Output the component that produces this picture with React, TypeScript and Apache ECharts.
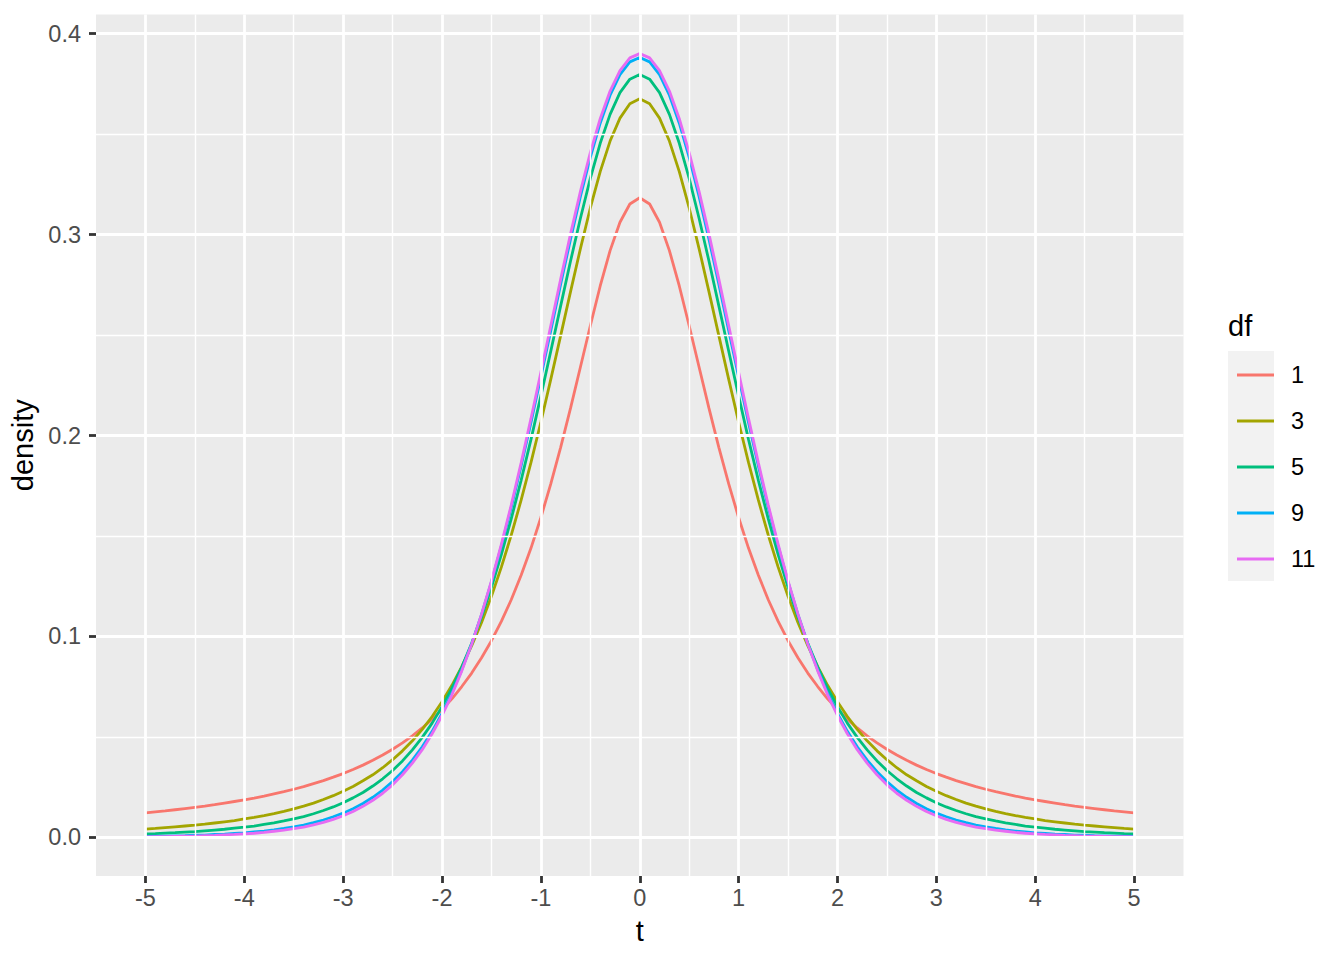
import React, { useEffect, useRef } from "react";
import * as echarts from "echarts";

// t values (x axis)
const tValues = [
  -5.0, -4.9, -4.8, -4.7, -4.6, -4.5, -4.4, -4.3, -4.2, -4.1,
  -4.0, -3.9, -3.8, -3.7, -3.6, -3.5, -3.4, -3.3, -3.2, -3.1,
  -3.0, -2.9, -2.8, -2.7, -2.6, -2.5, -2.4, -2.3, -2.2, -2.1,
  -2.0, -1.9, -1.8, -1.7, -1.6, -1.5, -1.4, -1.3, -1.2, -1.1,
  -1.0, -0.9, -0.8, -0.7, -0.6, -0.5, -0.4, -0.3, -0.2, -0.1,
  0.0,
  0.1, 0.2, 0.3, 0.4, 0.5, 0.6, 0.7, 0.8, 0.9, 1.0,
  1.1, 1.2, 1.3, 1.4, 1.5, 1.6, 1.7, 1.8, 1.9, 2.0,
  2.1, 2.2, 2.3, 2.4, 2.5, 2.6, 2.7, 2.8, 2.9, 3.0,
  3.1, 3.2, 3.3, 3.4, 3.5, 3.6, 3.7, 3.8, 3.9, 4.0,
  4.1, 4.2, 4.3, 4.4, 4.5, 4.6, 4.7, 4.8, 4.9, 5.0,
];

const density1 = [
  0.0122, 0.0127, 0.0132, 0.0138, 0.0144, 0.0150, 0.0156, 0.0163, 0.0171, 0.0179,
  0.0187, 0.0196, 0.0206, 0.0217, 0.0228, 0.0240, 0.0253, 0.0268, 0.0283, 0.0300,
  0.0318, 0.0338, 0.0360, 0.0384, 0.0410, 0.0439, 0.0471, 0.0506, 0.0545, 0.0588,
  0.0637, 0.0690, 0.0751, 0.0818, 0.0894, 0.0979, 0.1075, 0.1183, 0.1305, 0.1440,
  0.1592, 0.1759, 0.1941, 0.2136, 0.2341, 0.2546, 0.2744, 0.2920, 0.3061, 0.3152,
  0.3183,
  0.3152, 0.3061, 0.2920, 0.2744, 0.2546, 0.2341, 0.2136, 0.1941, 0.1759, 0.1592,
  0.1440, 0.1305, 0.1183, 0.1075, 0.0979, 0.0894, 0.0818, 0.0751, 0.0690, 0.0637,
  0.0588, 0.0545, 0.0506, 0.0471, 0.0439, 0.0410, 0.0384, 0.0360, 0.0338, 0.0318,
  0.0300, 0.0283, 0.0268, 0.0253, 0.0240, 0.0228, 0.0217, 0.0206, 0.0196, 0.0187,
  0.0179, 0.0171, 0.0163, 0.0156, 0.0150, 0.0144, 0.0138, 0.0132, 0.0127, 0.0122,
];

const density3 = [
  0.0042, 0.0045, 0.0049, 0.0053, 0.0057, 0.0061, 0.0066, 0.0072, 0.0078, 0.0084,
  0.0092, 0.0100, 0.0109, 0.0119, 0.0130, 0.0142, 0.0156, 0.0171, 0.0189, 0.0208,
  0.0230, 0.0254, 0.0282, 0.0312, 0.0347, 0.0387, 0.0431, 0.0481, 0.0538, 0.0602,
  0.0675, 0.0757, 0.0850, 0.0954, 0.1070, 0.1200, 0.1345, 0.1504, 0.1678, 0.1866,
  0.2067, 0.2279, 0.2497, 0.2716, 0.2930, 0.3132, 0.3313, 0.3465, 0.3579, 0.3651,
  0.3676,
  0.3651, 0.3579, 0.3465, 0.3313, 0.3132, 0.2930, 0.2716, 0.2497, 0.2279, 0.2067,
  0.1866, 0.1678, 0.1504, 0.1345, 0.1200, 0.1070, 0.0954, 0.0850, 0.0757, 0.0675,
  0.0602, 0.0538, 0.0481, 0.0431, 0.0387, 0.0347, 0.0312, 0.0282, 0.0254, 0.0230,
  0.0208, 0.0189, 0.0171, 0.0156, 0.0142, 0.0130, 0.0119, 0.0109, 0.0100, 0.0092,
  0.0084, 0.0078, 0.0072, 0.0066, 0.0061, 0.0057, 0.0053, 0.0049, 0.0045, 0.0042,
];

const density5 = [
  0.0018, 0.0019, 0.0022, 0.0024, 0.0027, 0.0029, 0.0033, 0.0037, 0.0041, 0.0046,
  0.0051, 0.0057, 0.0065, 0.0073, 0.0082, 0.0092, 0.0104, 0.0118, 0.0134, 0.0152,
  0.0173, 0.0197, 0.0224, 0.0256, 0.0292, 0.0333, 0.0381, 0.0436, 0.0498, 0.0569,
  0.0651, 0.0743, 0.0848, 0.0966, 0.1098, 0.1245, 0.1407, 0.1585, 0.1777, 0.1981,
  0.2197, 0.2419, 0.2645, 0.2868, 0.3081, 0.3279, 0.3454, 0.3598, 0.3706, 0.3773,
  0.3796,
  0.3773, 0.3706, 0.3598, 0.3454, 0.3279, 0.3081, 0.2868, 0.2645, 0.2419, 0.2197,
  0.1981, 0.1777, 0.1585, 0.1407, 0.1245, 0.1098, 0.0966, 0.0848, 0.0743, 0.0651,
  0.0569, 0.0498, 0.0436, 0.0381, 0.0333, 0.0292, 0.0256, 0.0224, 0.0197, 0.0173,
  0.0152, 0.0134, 0.0118, 0.0104, 0.0092, 0.0082, 0.0073, 0.0065, 0.0057, 0.0051,
  0.0046, 0.0041, 0.0037, 0.0033, 0.0029, 0.0027, 0.0024, 0.0022, 0.0019, 0.0018,
];

const density9 = [
  0.0005, 0.0006, 0.0007, 0.0008, 0.0009, 0.0011, 0.0012, 0.0015, 0.0017, 0.0020,
  0.0023, 0.0028, 0.0032, 0.0038, 0.0045, 0.0053, 0.0062, 0.0074, 0.0087, 0.0103,
  0.0121, 0.0143, 0.0169, 0.0200, 0.0236, 0.0278, 0.0327, 0.0385, 0.0451, 0.0528,
  0.0617, 0.0719, 0.0834, 0.0964, 0.1110, 0.1272, 0.1449, 0.1642, 0.1848, 0.2065,
  0.2292, 0.2522, 0.2753, 0.2977, 0.3190, 0.3384, 0.3554, 0.3693, 0.3796, 0.3859,
  0.3881,
  0.3859, 0.3796, 0.3693, 0.3554, 0.3384, 0.3190, 0.2977, 0.2753, 0.2522, 0.2292,
  0.2065, 0.1848, 0.1642, 0.1449, 0.1272, 0.1110, 0.0964, 0.0834, 0.0719, 0.0617,
  0.0528, 0.0451, 0.0385, 0.0327, 0.0278, 0.0236, 0.0200, 0.0169, 0.0143, 0.0121,
  0.0103, 0.0087, 0.0074, 0.0062, 0.0053, 0.0045, 0.0038, 0.0032, 0.0028, 0.0023,
  0.0020, 0.0017, 0.0015, 0.0012, 0.0011, 0.0009, 0.0008, 0.0007, 0.0006, 0.0005,
];

const density11 = [
  0.0003, 0.0004, 0.0004, 0.0005, 0.0006, 0.0007, 0.0009, 0.0010, 0.0013, 0.0015,
  0.0018, 0.0021, 0.0025, 0.0031, 0.0037, 0.0044, 0.0052, 0.0063, 0.0075, 0.0090,
  0.0108, 0.0129, 0.0155, 0.0185, 0.0220, 0.0262, 0.0312, 0.0370, 0.0437, 0.0516,
  0.0607, 0.0710, 0.0829, 0.0962, 0.1111, 0.1277, 0.1458, 0.1654, 0.1864, 0.2085,
  0.2314, 0.2546, 0.2778, 0.3003, 0.3215, 0.3408, 0.3576, 0.3714, 0.3816, 0.3879,
  0.3900,
  0.3879, 0.3816, 0.3714, 0.3576, 0.3408, 0.3215, 0.3003, 0.2778, 0.2546, 0.2314,
  0.2085, 0.1864, 0.1654, 0.1458, 0.1277, 0.1111, 0.0962, 0.0829, 0.0710, 0.0607,
  0.0516, 0.0437, 0.0370, 0.0312, 0.0262, 0.0220, 0.0185, 0.0155, 0.0129, 0.0108,
  0.0090, 0.0075, 0.0063, 0.0052, 0.0044, 0.0037, 0.0031, 0.0025, 0.0021, 0.0018,
  0.0015, 0.0013, 0.0010, 0.0009, 0.0007, 0.0006, 0.0005, 0.0004, 0.0004, 0.0003,
];

const dfLabels = ["1", "3", "5", "9", "11"];
const dfSeries = [density1, density3, density5, density9, density11];
const dfColors = ["#F8766D", "#A3A500", "#00BF7D", "#00B0F6", "#E76BF3"];

const xMajor = [-5, -4, -3, -2, -1, 0, 1, 2, 3, 4, 5];
const xMinor = [-4.5, -3.5, -2.5, -1.5, -0.5, 0.5, 1.5, 2.5, 3.5, 4.5];
const xTickLabels = ["-5", "-4", "-3", "-2", "-1", "0", "1", "2", "3", "4", "5"];
const yMajor = [0, 0.1, 0.2, 0.3, 0.4];
const yMinor = [0.05, 0.15, 0.25, 0.35];
const yTickLabels = ["0.0", "0.1", "0.2", "0.3", "0.4"];

const FONT = "'Liberation Sans', Arial, Helvetica, sans-serif";

export default function App() {
  const ref = useRef<HTMLDivElement>(null);

  useEffect(() => {
    if (!ref.current) return;
    const chart = echarts.init(ref.current, null, { renderer: "svg" });

    const gridLines = [
      ...xMinor.map((v) => ({ xAxis: v, lineStyle: { color: "#FFFFFF", width: 1.4, type: "solid" } })),
      ...yMinor.map((v) => ({ yAxis: v, lineStyle: { color: "#FFFFFF", width: 1.4, type: "solid" } })),
      ...xMajor.map((v) => ({ xAxis: v, lineStyle: { color: "#FFFFFF", width: 2.8, type: "solid" } })),
      ...yMajor.map((v) => ({ yAxis: v, lineStyle: { color: "#FFFFFF", width: 2.8, type: "solid" } })),
    ];

    const option: any = {
      animation: false,
      grid: {
        left: 96,
        top: 14.5,
        width: 1087.5,
        height: 861.5,
        show: true,
        backgroundColor: "#EBEBEB",
        borderWidth: 0,
        containLabel: false,
      },
      xAxis: {
        type: "value",
        min: -5.5,
        max: 5.5,
        axisLine: { show: false, onZero: false },
        splitLine: { show: false },
        axisTick: {
          show: true,
          customValues: xMajor,
          length: 7,
          lineStyle: { color: "#333333", width: 2.8 },
        },
        axisLabel: {
          customValues: xMajor,
          formatter: (v: number) => xTickLabels[xMajor.indexOf(v)] ?? "",
          fontSize: 23.5,
          color: "#4D4D4D",
          margin: 10,
          fontFamily: FONT,
        },
        name: "t",
        nameLocation: "middle",
        nameGap: 40,
        nameTextStyle: { fontSize: 29, color: "#000000", fontFamily: FONT },
      },
      yAxis: {
        type: "value",
        min: -0.019168,
        max: 0.409472,
        axisLine: { show: false, onZero: false },
        splitLine: { show: false },
        axisTick: {
          show: true,
          customValues: yMajor,
          length: 7,
          lineStyle: { color: "#333333", width: 2.8 },
        },
        axisLabel: {
          customValues: yMajor,
          formatter: (v: number) => yTickLabels[yMajor.indexOf(v)] ?? "",
          fontSize: 23.5,
          color: "#4D4D4D",
          margin: 15,
          fontFamily: FONT,
        },
        name: "density",
        nameLocation: "middle",
        nameGap: 54,
        nameRotate: 90,
        nameTextStyle: { fontSize: 29, color: "#000000", fontFamily: FONT },
      },
      legend: {
        orient: "vertical",
        left: 1232,
        top: 347,
        itemWidth: 37,
        itemHeight: 3,
        itemGap: 0,
        icon: "rect",
        selectedMode: false,
        data: dfLabels,
        textStyle: {
          fontSize: 23.5,
          color: "#000000",
          lineHeight: 46,
          padding: [0, 0, 0, 12],
          fontFamily: FONT,
        },
      },
      graphic: [
        {
          type: "rect",
          left: 1228,
          top: 351,
          shape: { width: 46, height: 230 },
          style: { fill: "#F2F2F2" },
          z: -1,
        },
        {
          type: "text",
          left: 1228,
          top: 311,
          style: { text: "df", fontSize: 29, fill: "#000000", fontFamily: FONT },
        },
      ],
      series: [
        {
          type: "line",
          name: "__grid",
          data: [],
          z: 1,
          silent: true,
          markLine: {
            silent: true,
            symbol: ["none", "none"],
            label: { show: false },
            animation: false,
            emphasis: { disabled: true },
            lineStyle: { type: "solid", color: "#FFFFFF" },
            data: gridLines,
          },
        },
        ...dfLabels.map((name, i) => ({
          type: "line",
          name,
          data: tValues.map((t, j) => [t, dfSeries[i][j]]),
          showSymbol: false,
          symbol: "none",
          z: 3,
          lineStyle: { width: 2.8, color: dfColors[i] },
          itemStyle: { color: dfColors[i] },
          emphasis: { disabled: true },
        })),
      ],
    };

    chart.setOption(option);
    return () => chart.dispose();
  }, []);

  return (
    <div
      ref={ref}
      style={{ position: "fixed", left: 0, top: 0, width: 1344, height: 960, background: "#FFFFFF" }}
    />
  );
}
